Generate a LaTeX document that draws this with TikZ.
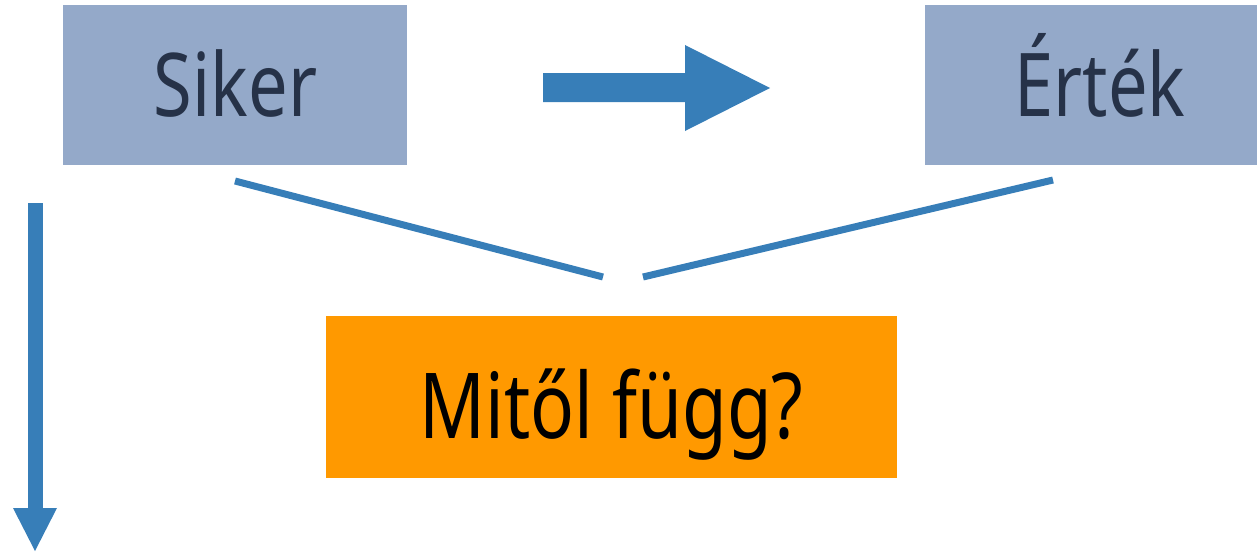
\documentclass[tikz,border=0pt]{standalone}
\usepackage{fontspec}
\setmainfont[FakeStretch=0.8]{Noto Sans}
\definecolor{boxblue}{HTML}{94A9C9}
\definecolor{navy}{HTML}{263248}
\definecolor{linkblue}{HTML}{377EB8}
\definecolor{orangefill}{HTML}{FF9900}
\begin{document}
\begin{tikzpicture}[x=1pt,y=-1pt,
  topbox/.style={fill=boxblue, inner sep=0pt},
  toptext/.style={text=navy, inner sep=0pt, anchor=base, font=\fontsize{88}{100}\selectfont},
  qbox/.style={fill=orangefill, inner sep=0pt},
  qtext/.style={text=black, inner sep=0pt, anchor=base, font=\fontsize{91}{100}\selectfont},
  link/.style={draw=linkblue, line width=7pt},
  blockarrow/.style={fill=linkblue, draw=none}]
\useasboundingbox (0,0) rectangle (1257,551);
\node[topbox, minimum width=344pt, minimum height=160pt] (siker) at (235,85) {};
\node[toptext] (sikertext) at (235.5,116) {Siker};
\node[topbox, minimum width=332pt, minimum height=160pt] (ertek) at (1091,85) {};
\node[toptext] (ertektext) at (1100,116) {Érték};
\node[qbox, minimum width=571pt, minimum height=162pt] (q) at (611.5,397) {};
\node[qtext] (qlabel) at (611.5,438) {Mitől függ?};
% block arrow between the top boxes
\coordinate (a1) at (543,73);
\coordinate (a2) at (685,73);
\coordinate (a3) at (685,45);
\coordinate (a4) at (770,88);
\coordinate (a5) at (685,131);
\coordinate (a6) at (685,102);
\coordinate (a7) at (543,102);
\fill[blockarrow] (a1) -- (a2) -- (a3) -- (a4) -- (a5) -- (a6) -- (a7) -- cycle;
% converging lines
\coordinate (l1s) at (235,181);
\coordinate (l1e) at (603,277);
\coordinate (l2s) at (643,277);
\coordinate (l2e) at (1053,180);
\draw[link] (l1s) -- (l1e);
\draw[link] (l2s) -- (l2e);
% down arrow
\coordinate (d0) at (35,203);
\coordinate (d1) at (35,509);
\coordinate (dl) at (13,508);
\coordinate (dr) at (57,508);
\coordinate (dt) at (35,551);
\draw[draw=linkblue, line width=15pt] (d0) -- (d1);
\fill[blockarrow] (dl) -- (dr) -- (dt) -- cycle;
\end{tikzpicture}
\end{document}
